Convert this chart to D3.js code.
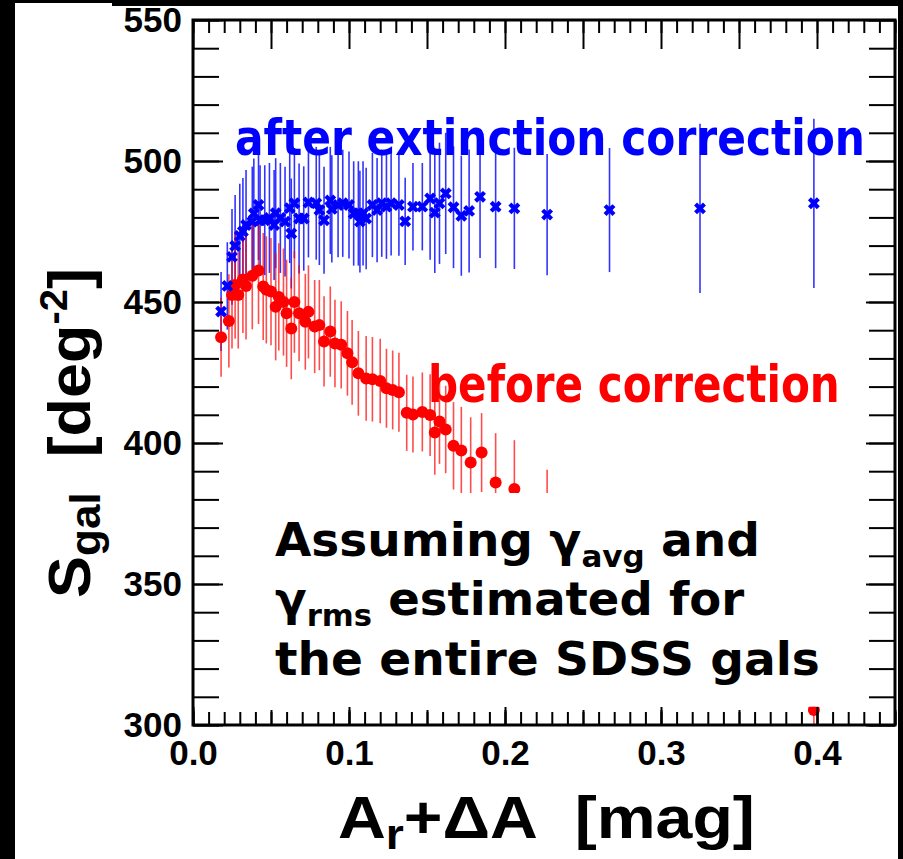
<!DOCTYPE html>
<html>
<head>
<meta charset="utf-8">
<script src="https://cdn.jsdelivr.net/npm/d3@7"></script>
<style>
  html, body { margin: 0; padding: 0; background: #fff; }
  svg { display: block; }
</style>
</head>
<body>
<div id="chart"></div>
<script>
// A_r + dA bins [mag], S_gal [deg^-2] and error half-widths
var blueX = [0.018, 0.022, 0.025, 0.027, 0.030, 0.032, 0.034, 0.038, 0.039, 0.042,
  0.043, 0.046, 0.049, 0.052, 0.053, 0.056, 0.059, 0.062, 0.063, 0.065,
  0.068, 0.071, 0.074, 0.079, 0.081, 0.084, 0.088, 0.089, 0.093, 0.096,
  0.100, 0.103, 0.106, 0.107, 0.109, 0.111, 0.115, 0.118, 0.121, 0.124,
  0.127, 0.132, 0.136, 0.141, 0.147, 0.152, 0.155, 0.158, 0.162, 0.167,
  0.172, 0.177, 0.184, 0.194, 0.206, 0.227, 0.267, 0.325, 0.398];
var blueY = [446.6, 455.7, 466.0, 469.9, 473.4, 475.0, 477.3, 478.5, 481.4, 484.4,
  479.0, 479.0, 479.8, 477.3, 481.5, 479.8, 478.5, 483.3, 474.3, 485.0,
  479.6, 479.6, 485.3, 485.0, 482.6, 479.0, 486.0, 483.0, 484.4, 485.0,
  484.4, 481.4, 481.4, 478.5, 481.4, 479.6, 484.4, 482.6, 485.0, 483.8,
  485.0, 484.4, 478.6, 483.8, 483.8, 486.7, 481.7, 485.0, 488.5, 483.6,
  480.6, 482.3, 487.3, 483.8, 483.2, 481.0, 482.6, 483.2, 485.0];
var blueErr = [14, 15.5, 17, 18, 18.5, 19, 19.5, 19.5, 19.5, 19.5,
  19.5, 19.5, 19.5, 19.5, 19.5, 19.5, 19.5, 19.5, 19.5, 19.5,
  19.5, 18.5, 19.5, 20, 19.5, 19, 19, 19, 18.5, 19,
  19, 18.5, 18.5, 18, 18.5, 18, 18.5, 18.5, 19, 18.5,
  18.5, 18, 15.5, 15.5, 15.5, 21.7, 21.4, 21.5, 21.5, 21.6,
  21.3, 21.8, 21.7, 21.8, 21.5, 21.5, 22, 30, 30];

var redX = [0.018, 0.023, 0.025, 0.027, 0.029, 0.032, 0.034, 0.038, 0.042, 0.045,
  0.047, 0.050, 0.053, 0.055, 0.058, 0.060, 0.063, 0.065, 0.068, 0.072,
  0.074, 0.078, 0.081, 0.084, 0.088, 0.091, 0.095, 0.099, 0.102, 0.106,
  0.111, 0.115, 0.120, 0.124, 0.128, 0.132, 0.137, 0.141, 0.147, 0.152,
  0.155, 0.158, 0.162, 0.167, 0.172, 0.178, 0.185, 0.194, 0.206, 0.227,
  0.267, 0.325, 0.398];
var redY = [437.5, 443.3, 452.5, 456.0, 452.5, 458.0, 455.7, 459.3, 461.2, 455.5,
  454.3, 453.7, 448.3, 451.8, 450.0, 446.0, 440.6, 450.0, 446.0, 443.0,
  446.5, 441.3, 441.8, 436.0, 439.5, 435.3, 434.8, 431.8, 428.6, 424.7,
  422.9, 422.6, 422.0, 419.4, 418.8, 418.0, 410.7, 410.1, 411.0, 409.9,
  403.7, 407.6, 404.8, 399.0, 397.3, 393.1, 396.6, 386.0, 383.7, 373.0,
  358.0, 342.0, 305.3];
var redErr = [14, 16.5, 19, 19, 19, 19, 19, 19, 19, 19,
  19, 19, 19, 19, 19, 19, 18, 18, 17, 17,
  16.5, 16.5, 16, 16, 16, 15.5, 15.5, 15, 15, 15,
  15, 15, 15, 14, 14, 14, 13.5, 13.5, 14, 14.5,
  15, 15, 15.5, 15.5, 15.5, 16, 14, 17.5, 17.3, 17.5,
  18, 20, 30];

var xTicks = [0.0, 0.1, 0.2, 0.3, 0.4];
var yTicks = [300, 350, 400, 450, 500, 550];

var W = 903, H = 859,
  pl = 193, pr = 895, pt = 20, pb = 725;

var x = d3.scaleLinear().domain([0, 0.45]).range([pl, pr]);
var y = d3.scaleLinear().domain([300, 550]).range([pb, pt]);

var svg = d3.select('#chart').append('svg')
  .attr('width', W).attr('height', H);

svg.append('rect').attr('width', W).attr('height', H).attr('fill', '#fff');
// dark edges of the original screen grab
svg.append('rect').attr('x', 0).attr('y', 0).attr('width', 15).attr('height', H).attr('fill', '#000');
svg.append('rect').attr('x', 0).attr('y', 0).attr('width', W).attr('height', 3).attr('fill', '#000');
svg.append('rect').attr('x', 112).attr('y', 0).attr('width', W - 112).attr('height', 6).attr('fill', '#000');
svg.append('rect').attr('x', 898).attr('y', 0).attr('width', 5).attr('height', H).attr('fill', '#000');

var defs = svg.append('defs');
defs.append('clipPath').attr('id', 'plotclip')
  .append('rect').attr('x', pl).attr('y', pt)
  .attr('width', pr - pl).attr('height', pb - pt);
// the red graph is only shown above ~382 and below ~306.5
var redClip = defs.append('clipPath').attr('id', 'redclip');
redClip.append('rect').attr('x', pl).attr('y', pt)
  .attr('width', pr - pl).attr('height', y(382.3) - pt);
redClip.append('rect').attr('x', pl).attr('y', y(306.5))
  .attr('width', pr - pl).attr('height', pb - y(306.5));

var blue = blueX.map(function(d, i) { return {x: d, y: blueY[i], e: blueErr[i]}; });
var red = redX.map(function(d, i) { return {x: d, y: redY[i], e: redErr[i]}; });

var plot = svg.append('g').attr('clip-path', 'url(#plotclip)');
var blueBars = plot.append('g');
var redG = plot.append('g').attr('clip-path', 'url(#redclip)');
var blueG = plot.append('g');

blueBars.selectAll('line').data(blue).enter().append('line')
  .attr('x1', function(d) { return x(d.x); })
  .attr('x2', function(d) { return x(d.x); })
  .attr('y1', function(d) { return y(d.y + d.e); })
  .attr('y2', function(d) { return y(d.y - d.e); })
  .attr('stroke', '#0000ff').attr('stroke-width', 1.6).attr('stroke-opacity', 0.8);

redG.selectAll('line').data(red).enter().append('line')
  .attr('x1', function(d) { return x(d.x); })
  .attr('x2', function(d) { return x(d.x); })
  .attr('y1', function(d) { return y(d.y + d.e); })
  .attr('y2', function(d) { return y(d.y - d.e); })
  .attr('stroke', '#ff0000').attr('stroke-width', 1.6).attr('stroke-opacity', 0.7);

redG.selectAll('circle').data(red).enter().append('circle')
  .attr('cx', function(d) { return x(d.x); })
  .attr('cy', function(d) { return y(d.y); })
  .attr('r', 6)
  .attr('fill', '#ff0000');

var cross = d3.symbol().type(d3.symbolCross).size(88);
blueG.selectAll('path').data(blue).enter().append('path')
  .attr('d', cross)
  .attr('transform', function(d) { return 'translate(' + x(d.x) + ',' + y(d.y) + ') rotate(45)'; })
  .attr('fill', '#0000ff');

// axes: ROOT style ticks drawn inwards on all four sides
var xMinor = d3.range(0, 46).map(function(i) { return i / 100; });
var xMid = xMinor.filter(function(d, i) { return i % 5 === 0; });
var yMinor = d3.range(300, 551, 10);

function tickStyle(g) {
  g.select('.domain').remove();
  g.selectAll('.tick line').attr('stroke', '#000').attr('stroke-width', 2);
}

function addAxis(axis, tx, ty) {
  return svg.append('g').attr('transform', 'translate(' + tx + ',' + ty + ')')
    .call(axis).call(tickStyle);
}

addAxis(d3.axisBottom(x).tickValues(xMinor).tickSize(-13).tickFormat(''), 0, pb);
addAxis(d3.axisBottom(x).tickValues(xMid).tickSize(-15).tickFormat(''), 0, pb);
var xAx = addAxis(d3.axisBottom(x).tickValues(xTicks).tickSize(-18).tickPadding(15).tickFormat(d3.format('.1f')), 0, pb);

addAxis(d3.axisTop(x).tickValues(xMinor).tickSize(-13).tickFormat(''), 0, pt);
addAxis(d3.axisTop(x).tickValues(xMid).tickSize(-29).tickFormat(''), 0, pt);

addAxis(d3.axisLeft(y).tickValues(yMinor).tickSize(-26).tickFormat(''), pl, 0);
var yAx = addAxis(d3.axisLeft(y).tickValues(yTicks).tickSize(-30).tickPadding(11).tickFormat(d3.format('d')), pl, 0);

addAxis(d3.axisRight(y).tickValues(yMinor).tickSize(-26).tickFormat(''), pr, 0);
addAxis(d3.axisRight(y).tickValues(yTicks).tickSize(-29).tickFormat(''), pr, 0);

[xAx, yAx].forEach(function(g) {
  g.attr('font-family', '"Liberation Sans", Arial, sans-serif')
    .attr('font-size', 35).attr('font-weight', 'bold');
  g.selectAll('text').attr('fill', '#000');
});

// frame
svg.append('rect')
  .attr('x', pl).attr('y', pt)
  .attr('width', pr - pl).attr('height', pb - pt)
  .attr('fill', 'none').attr('stroke', '#000').attr('stroke-width', 3);

// stretch a text horizontally so it covers the width seen in the figure
function fitWidth(t, w) {
  var b = t.node().getBBox();
  var s = w / b.width;
  var prev = t.attr('transform') || '';
  t.attr('transform', prev + ' translate(' + b.x + ',0) scale(' + s + ',1) translate(' + (-b.x) + ',0)');
}

var ttl = '"Liberation Sans", Arial, sans-serif';

// x title
var xt = svg.append('text').attr('x', 338).attr('y', 838)
  .attr('font-family', ttl).attr('font-weight', 'bold').attr('font-size', 60);
xt.append('tspan').text('A');
xt.append('tspan').attr('font-size', 42).attr('dy', 11).text('r');
xt.append('tspan').attr('dy', -11).text('+\u0394A\u00a0\u00a0[mag]');
fitWidth(xt, 417);

// y title
var yg = svg.append('g').attr('transform', 'translate(90,598) rotate(-90)');
var yt = yg.append('text').attr('x', 0).attr('y', 0)
  .attr('font-family', ttl).attr('font-weight', 'bold').attr('font-size', 60);
yt.append('tspan').text('S');
yt.append('tspan').attr('font-size', 42).attr('dy', 10).text('gal');
yt.append('tspan').attr('dy', -10).text('\u00a0\u00a0[deg');
yt.append('tspan').attr('font-size', 38).attr('dy', -23).text('-2');
yt.append('tspan').attr('dy', 23).text(']');
fitWidth(yt, 330);

// series labels
var lab = '"DejaVu Sans Condensed", "DejaVu Sans", sans-serif';
var bt = svg.append('text').attr('x', 235).attr('y', 155)
  .attr('font-family', lab).attr('font-weight', 'bold').attr('font-size', 50)
  .attr('fill', '#0000ff').text('after extinction correction');
fitWidth(bt, 630);
var rt = svg.append('text').attr('x', 428).attr('y', 402)
  .attr('font-family', lab).attr('font-weight', 'bold').attr('font-size', 51)
  .attr('fill', '#ff0000').text('before correction');
fitWidth(rt, 412);

// note
var note = '"DejaVu Sans", sans-serif';
var n1 = svg.append('text').attr('x', 275).attr('y', 556)
  .attr('font-family', note).attr('font-weight', 'bold').attr('font-size', 47);
n1.append('tspan').text('Assuming \u03b3');
n1.append('tspan').attr('font-size', 31).attr('dy', 11).text('avg');
n1.append('tspan').attr('dy', -11).text(' and');
fitWidth(n1, 485);

var n2 = svg.append('text').attr('x', 275).attr('y', 615)
  .attr('font-family', note).attr('font-weight', 'bold').attr('font-size', 47);
n2.append('tspan').text('\u03b3');
n2.append('tspan').attr('font-size', 31).attr('dy', 11).text('rms');
n2.append('tspan').attr('dy', -11).text(' estimated for');
fitWidth(n2, 470);

var n3 = svg.append('text').attr('x', 275).attr('y', 675)
  .attr('font-family', note).attr('font-weight', 'bold').attr('font-size', 47)
  .text('the entire SDSS gals');
fitWidth(n3, 545);
</script>
</body>
</html>
